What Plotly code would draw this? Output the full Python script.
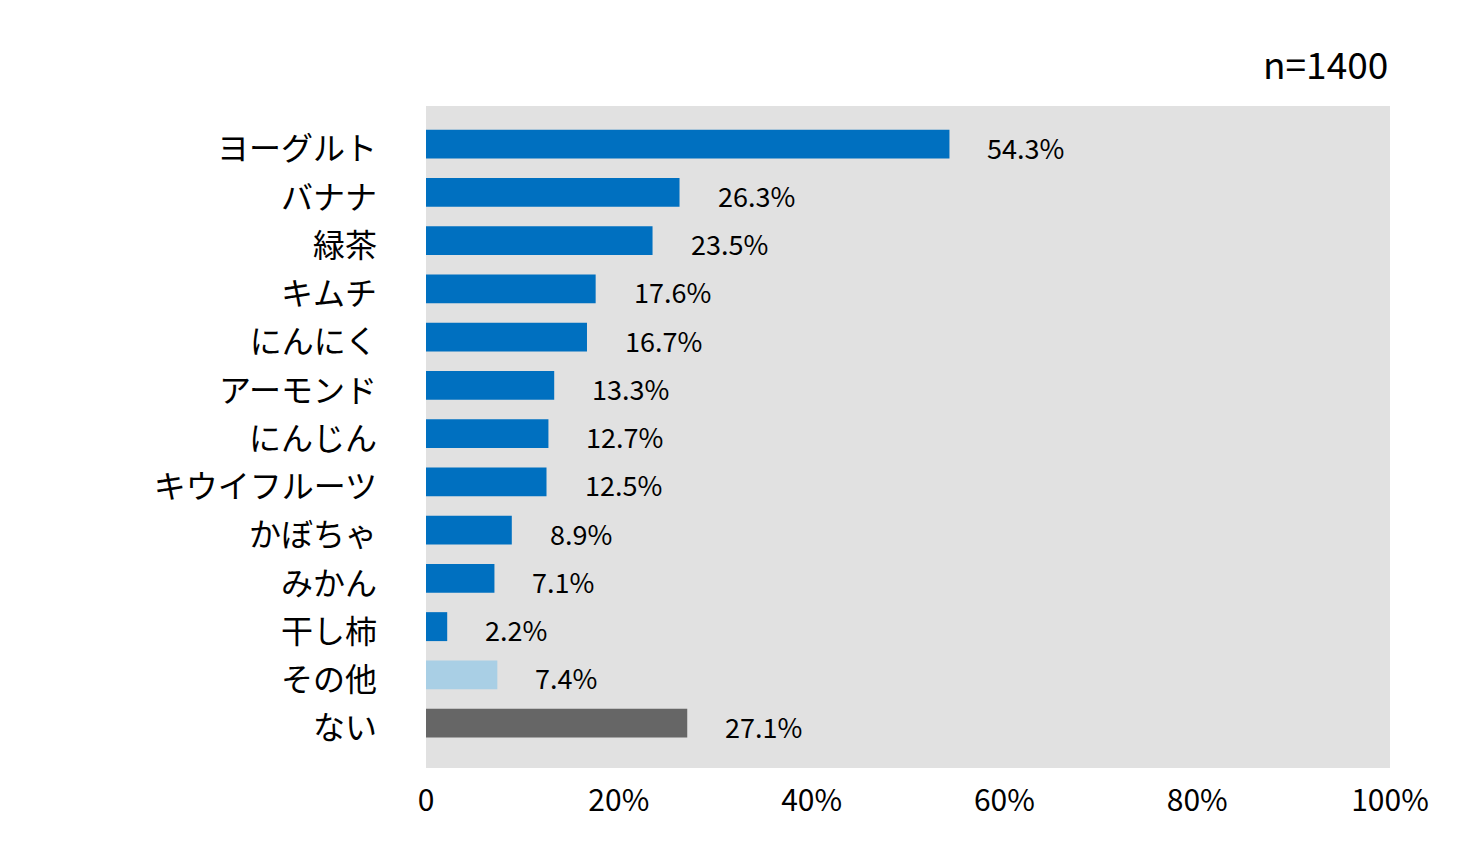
import plotly.graph_objects as go

categories = ["ヨーグルト", "バナナ", "緑茶", "キムチ", "にんにく", "アーモンド", "にんじん",
              "キウイフルーツ", "かぼちゃ", "みかん", "干し柿", "その他", "ない"]
values = [54.3, 26.3, 23.5, 17.6, 16.7, 13.3, 12.7, 12.5, 8.9, 7.1, 2.2, 7.4, 27.1]
colors = ["#0070c0"] * 11 + ["#a9cfe5", "#666666"]
x_ticks = [0, 20, 40, 60, 80, 100]
x_tick_labels = ["0", "20%", "40%", "60%", "80%", "100%"]
sample_note = "n=1400"

jp_font = "Noto Sans CJK JP"

fig = go.Figure()
fig.add_trace(
    go.Bar(
        x=values,
        y=categories,
        orientation="h",
        marker=dict(color=colors, line=dict(width=0)),
        width=0.6,
        hoverinfo="skip",
    )
)

# value labels sit well to the right of each bar end
for cat, val in zip(categories, values):
    fig.add_annotation(
        x=val, y=cat, text=f"{val:.1f}%",
        xanchor="left", yanchor="middle", xshift=36, yshift=-3,
        showarrow=False,
        font=dict(family=jp_font, size=27, color="#000000"),
    )

fig.add_annotation(
    x=1, y=1, xref="paper", yref="paper", text=sample_note,
    xanchor="right", yanchor="bottom", yshift=14,
    showarrow=False,
    font=dict(family=jp_font, size=37, color="#000000"),
)

fig.update_layout(
    width=1460,
    height=862,
    margin=dict(l=418, r=78, t=98, b=102),
    paper_bgcolor="white",
    plot_bgcolor="#e1e1e1",
    showlegend=False,
)
fig.update_xaxes(
    range=[0, 100],
    tickvals=x_ticks,
    ticktext=x_tick_labels,
    showgrid=False,
    zeroline=False,
    showline=False,
    ticklabelstandoff=12,
    tickfont=dict(family=jp_font, size=30, color="#000000"),
)
fig.update_yaxes(
    categoryorder="array",
    categoryarray=categories,
    range=[12.93, -0.79],
    showgrid=False,
    zeroline=False,
    ticklabelstandoff=48,
    ticklabelshift=-5,
    tickfont=dict(family=jp_font, size=32, color="#000000"),
)

fig.write_html("out.html")
